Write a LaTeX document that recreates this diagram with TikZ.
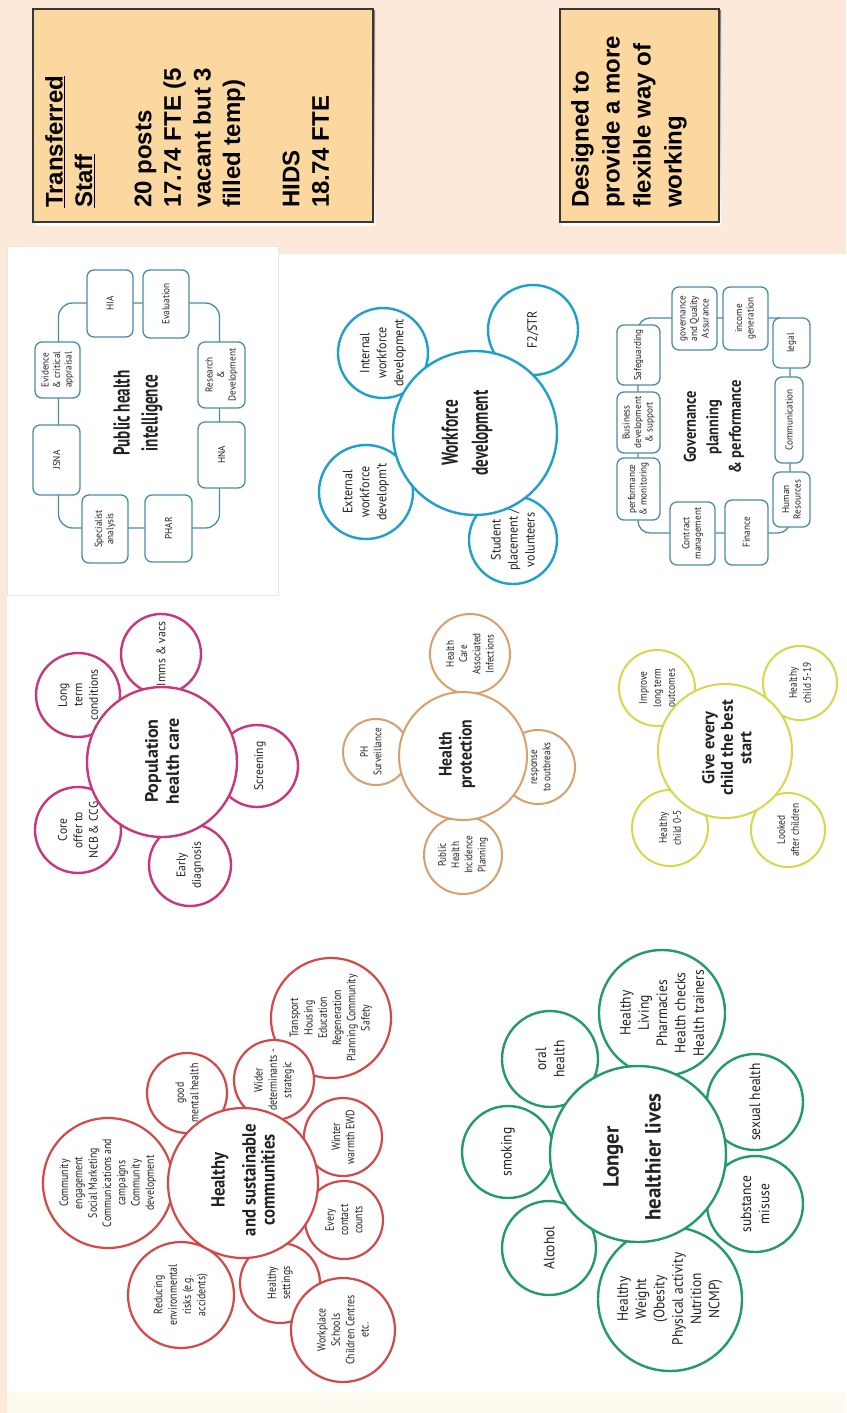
\documentclass[tikz,border=0pt]{standalone}
\usepackage{fontspec}
\setmainfont{PT Sans}
\newfontfamily\headfont{Liberation Sans}

\definecolor{peach}{RGB}{253,233,217}
\definecolor{cream}{RGB}{254,250,240}
\definecolor{tanfill}{RGB}{250,216,160}
\definecolor{boxline}{RGB}{55,55,55}
\definecolor{shade}{RGB}{240,185,165}
\definecolor{panelline}{RGB}{236,230,225}
\definecolor{ink}{RGB}{35,35,35}
\definecolor{wdc}{RGB}{30,160,205}
\definecolor{popc}{RGB}{200,55,125}
\definecolor{hpc}{RGB}{215,160,110}
\definecolor{gecc}{RGB}{215,215,75}
\definecolor{hscc}{RGB}{212,72,72}
\definecolor{lhlc}{RGB}{35,155,105}
\definecolor{ringc}{RGB}{75,140,165}

\begin{document}
\begin{tikzpicture}[x=1pt, y=-1pt,
  bub/.style={circle, draw=#1, line width=2.4pt, fill=white, inner sep=0pt},
  lab/.style={rotate=90, align=center, inner sep=0pt, text=ink},
  wdhub/.style={lab, font=\bfseries\fontsize{23}{30}\selectfont, xscale=0.66},
  wdsat/.style={lab, font=\fontsize{13.5}{17}\selectfont, xscale=0.9},
  phihub/.style={lab, font=\bfseries\fontsize{23}{28}\selectfont, xscale=0.66},
  boxtxt/.style={lab, font=\fontsize{10}{11.5}\selectfont, xscale=0.92},
  govhub/.style={lab, font=\bfseries\fontsize{17}{22.5}\selectfont, xscale=0.85},
  pophub/.style={lab, font=\bfseries\fontsize{18}{21}\selectfont},
  popsat/.style={lab, font=\fontsize{12.5}{15.5}\selectfont, xscale=0.93},
  hphub/.style={lab, font=\bfseries\fontsize{18}{20}\selectfont, xscale=0.87},
  hpsat/.style={lab, font=\fontsize{11}{13.3}\selectfont, xscale=0.83},
  gechub/.style={lab, font=\bfseries\fontsize{17}{18.5}\selectfont, xscale=0.97},
  gecsat/.style={lab, font=\fontsize{11}{14}\selectfont, xscale=0.85},
  hschub/.style={lab, font=\bfseries\fontsize{19}{19}\selectfont, xscale=0.88},
  hscsat/.style={lab, font=\fontsize{12}{14.3}\selectfont, xscale=0.82},
  lhlhub/.style={lab, font=\bfseries\fontsize{22}{26}\selectfont, xscale=0.95},
  lhlsat/.style={lab, font=\fontsize{15}{18.3}\selectfont, xscale=0.9},
  infobox/.style={draw=boxline, line width=1.8pt, fill=tanfill, inner sep=0pt},
  infotext/.style={rotate=90, align=left, inner sep=0pt, anchor=north west, text=black,
    font=\headfont\bfseries\fontsize{24}{29.6}\selectfont},
  ibox/.style={draw=ringc, line width=1.3pt, rounded corners=7pt, fill=white, inner sep=0pt},
  ringbox/.style={draw=ringc, line width=1.3pt, rounded corners=14pt, inner sep=0pt},
]
\useasboundingbox (0,0) rectangle (846,1413);

% page background and panels
\fill[peach] (0,0) rectangle (846,1413);
\fill[cream] (7,1393) rectangle (846,1413);
\fill[white] (7,254) rectangle (846,1393);
\filldraw[fill=white, draw=panelline, line width=1pt] (7,246) rectangle (278,595);

% header boxes
\fill[shade] (35,11) rectangle (375,225);
\node[infobox, minimum width=340pt, minimum height=213pt] (staff) at (203,115.5) {};
\node[infotext] (staff-t) at (45,208)
  {\underline{Transferred}\\\underline{Staff}\\[29.6pt]20 posts\\17.74 FTE (5\\vacant but 3\\filled temp)\\[29.6pt]HIDS\\18.74 FTE};
\fill[shade] (562,11) rectangle (721,225);
\node[infobox, minimum width=159pt, minimum height=213pt] (flex) at (639.5,115.5) {};
\node[infotext, font=\headfont\bfseries\fontsize{24}{31}\selectfont] (flex-t) at (571,208)
  {Designed to\\provide a more\\flexible way of\\working};

% ---------- Public health intelligence ----------
\node[ringbox, minimum width=161pt, minimum height=225pt] (phi-ring) at (139,415.5) {};
\node[ibox, minimum width=46pt, minimum height=67pt] (hia) at (110,303.5) {};
\node[boxtxt] (hia-t) at (hia) {HIA};
\node[ibox, minimum width=46pt, minimum height=68pt] (eval) at (166,304) {};
\node[boxtxt] (eval-t) at (eval) {Evaluation};
\node[ibox, minimum width=45pt, minimum height=56pt] (evid) at (57.5,370) {};
\node[boxtxt] (evid-t) at (evid) {Evidence\\\& critical\\appraisal};
\node[ibox, minimum width=47pt, minimum height=66pt] (rnd) at (221.5,375) {};
\node[boxtxt] (rnd-t) at (rnd) {Research\\\&\\Development};
\node[ibox, minimum width=47pt, minimum height=70pt] (jsna) at (56.5,460) {};
\node[boxtxt] (jsna-t) at (jsna) {JSNA};
\node[ibox, minimum width=47pt, minimum height=66pt] (hna) at (221.5,455) {};
\node[boxtxt] (hna-t) at (hna) {HNA};
\node[ibox, minimum width=46pt, minimum height=68pt] (spec) at (105,529) {};
\node[boxtxt] (spec-t) at (spec) {Specialist\\analysis};
\node[ibox, minimum width=47pt, minimum height=67pt] (phar) at (168.5,528.5) {};
\node[boxtxt] (phar-t) at (phar) {PHAR};
\node[phihub] (phi-t) at (138,413) {Public health\\intelligence};

% ---------- Workforce development ----------
\node[bub=wdc, minimum size=90pt] (iwd) at (383,353) {};
\node[wdsat] (iwd-t) at (iwd) {Internal\\workforce\\development};
\node[bub=wdc, minimum size=90pt] (f2) at (533,330) {};
\node[wdsat] (f2-t) at (f2) {F2/STR};
\node[bub=wdc, minimum size=94pt] (ewd) at (366,492) {};
\node[wdsat] (ewd-t) at (ewd) {External\\workforce\\developm't};
\node[bub=wdc, minimum size=88pt] (stu) at (513,540) {};
\node[wdsat] (stu-t) at (stu) {Student\\placement /\\volunteers};
\node[bub=wdc, minimum size=164pt] (wd) at (475,433) {};
\node[wdhub] (wd-t) at (467,433) {Workforce\\development};

% ---------- Governance planning & performance ----------
\node[ringbox, rounded corners=12pt, minimum width=152pt, minimum height=215pt] (gov-ring) at (714,425.5) {};
\node[ibox, minimum width=43pt, minimum height=62pt] (perf) at (638.5,489) {};
\node[boxtxt] (perf-t) at (perf) {performance\\\& monitoring};
\node[ibox, minimum width=43pt, minimum height=61pt] (bus) at (638.5,422.5) {};
\node[boxtxt] (bus-t) at (bus) {Business\\development\\\& support};
\node[ibox, minimum width=43pt, minimum height=60pt] (safe) at (638.5,355) {};
\node[boxtxt] (safe-t) at (safe) {Safeguarding};
\node[ibox, minimum width=45pt, minimum height=63pt] (gqa) at (694.5,318.5) {};
\node[boxtxt] (gqa-t) at (gqa) {governance\\and Quality\\Assurance};
\node[ibox, minimum width=45pt, minimum height=63pt] (inc) at (745.5,318.5) {};
\node[boxtxt] (inc-t) at (inc) {income\\generation};
\node[ibox, minimum width=45pt, minimum height=63pt] (contract) at (692.5,533.5) {};
\node[boxtxt] (contract-t) at (contract) {Contract\\management};
\node[ibox, minimum width=43pt, minimum height=65pt] (fin) at (746.5,532.5) {};
\node[boxtxt] (fin-t) at (fin) {Finance};
\node[ibox, minimum width=37pt, minimum height=50pt] (legal) at (791.5,343) {};
\node[boxtxt] (legal-t) at (legal) {legal};
\node[ibox, minimum width=28pt, minimum height=86pt] (comm) at (789,420) {};
\node[boxtxt] (comm-t) at (comm) {Communication};
\node[ibox, minimum width=37pt, minimum height=55pt] (hr) at (791.5,499.5) {};
\node[boxtxt] (hr-t) at (hr) {Human\\Resources};
\node[govhub] (gov-t) at (714,427) {Governance\\planning\\\& performance};

% ---------- Population health care ----------
\node[bub=popc, minimum size=84pt] (ltc) at (78,695) {};
\node[popsat] (ltc-t) at (ltc) {Long\\term\\conditions};
\node[bub=popc, minimum size=80pt] (imms) at (161,654) {};
\node[popsat] (imms-t) at (imms) {Imms \& vacs};
\node[bub=popc, minimum size=82pt] (scr) at (257,766) {};
\node[popsat] (scr-t) at (260,766) {Screening};
\node[bub=popc, minimum size=86pt] (core) at (78,830) {};
\node[popsat] (core-t) at (core) {Core\\offer to\\NCB \& CCG};
\node[bub=popc, minimum size=82pt] (early) at (190,865) {};
\node[popsat] (early-t) at (early) {Early\\diagnosis};
\node[bub=popc, minimum size=150pt] (pop) at (162,762) {};
\node[pophub] (pop-t) at (162,761) {Population\\health care};

% ---------- Health protection ----------
\node[bub=hpc, line width=2pt, minimum size=80pt] (hcai) at (470,654) {};
\node[hpsat] (hcai-t) at (hcai) {Health\\Care\\Associated\\Infections};
\node[bub=hpc, line width=2pt, minimum size=66pt] (phs) at (376,752) {};
\node[hpsat] (phs-t) at (371,752) {PH\\Surveillance};
\node[bub=hpc, line width=2pt, minimum size=74pt] (resp) at (538,767) {};
\node[hpsat] (resp-t) at (541,767) {response\\to outbreaks};
\node[bub=hpc, line width=2pt, minimum size=78pt] (phip) at (463,855) {};
\node[hpsat] (phip-t) at (phip) {Public\\Health\\Incidence\\Planning};
\node[bub=hpc, line width=2pt, minimum size=128pt] (hp) at (463,756) {};
\node[hphub] (hp-t) at (457,754) {Health\\protection};

% ---------- Give every child the best start ----------
\node[bub=gecc, line width=2pt, minimum size=76pt] (imp) at (657,688) {};
\node[gecsat] (imp-t) at (imp) {Improve\\long term\\outcomes};
\node[bub=gecc, line width=2pt, minimum size=74pt] (h519) at (800,683) {};
\node[gecsat] (h519-t) at (h519) {Healthy\\child 5-19};
\node[bub=gecc, line width=2pt, minimum size=76pt] (h05) at (670,828) {};
\node[gecsat] (h05-t) at (h05) {Healthy\\child 0-5};
\node[bub=gecc, line width=2pt, minimum size=74pt] (lac) at (788,830) {};
\node[gecsat] (lac-t) at (lac) {Looked\\after children};
\node[bub=gecc, line width=2pt, minimum size=134pt] (gec) at (725,751) {};
\node[gechub] (gec-t) at (727,748) {Give every\\child the best\\start};

% ---------- Healthy and sustainable communities ----------
\node[bub=hscc, line width=2.2pt, minimum size=120pt] (thp) at (331,1018) {};
\node[hscsat] (thp-t) at (thp) {Transport\\Housing\\Education\\Regeneration\\Planning Community\\Safety};
\node[bub=hscc, line width=2.2pt, minimum size=80pt] (wds) at (274,1080) {};
\node[hscsat] (wds-t) at (wds) {Wider\\determinants -\\strategic};
\node[bub=hscc, line width=2.2pt, minimum size=130pt] (ce) at (108,1183) {};
\node[hscsat] (ce-t) at (ce) {Community\\engagement\\Social Marketing\\Communications and\\campaigns\\Community\\development};
\node[bub=hscc, line width=2.2pt, minimum size=80pt] (gmh) at (187,1093) {};
\node[hscsat] (gmh-t) at (gmh) {good\\mental health};
\node[bub=hscc, line width=2.2pt, minimum size=78pt] (ww) at (343,1137) {};
\node[hscsat] (ww-t) at (ww) {Winter\\warmth EWD};
\node[bub=hscc, line width=2.2pt, minimum size=80pt] (hs) at (280,1283) {};
\node[hscsat] (hs-t) at (hs) {Healthy\\settings};
\node[bub=hscc, line width=2.2pt, minimum size=78pt] (ecc) at (344,1220) {};
\node[hscsat] (ecc-t) at (ecc) {Every\\contact\\counts};
\node[bub=hscc, line width=2.2pt, minimum size=106pt] (red) at (181,1295) {};
\node[hscsat] (red-t) at (red) {Reducing\\environmental\\risks (e.g.\\accidents)};
\node[bub=hscc, line width=2.2pt, minimum size=104pt] (wsc) at (343,1330) {};
\node[hscsat] (wsc-t) at (wsc) {Workplace\\Schools\\Children Centres\\etc.};
\node[bub=hscc, line width=2.2pt, minimum size=150pt] (hsc) at (243,1183) {};
\node[hschub] (hsc-t) at (243,1180) {Healthy\\[12pt]and sustainable\\communities};

% ---------- Longer healthier lives ----------
\node[bub=lhlc, minimum size=126pt] (hlp) at (662,1013) {};
\node[lhlsat] (hlp-t) at (hlp) {Healthy\\Living\\Pharmacies\\Health checks\\Health trainers};
\node[bub=lhlc, minimum size=96pt] (oral) at (550,1059) {};
\node[lhlsat] (oral-t) at (oral) {oral\\health};
\node[bub=lhlc, minimum size=92pt] (smk) at (508,1152) {};
\node[lhlsat] (smk-t) at (smk) {smoking};
\node[bub=lhlc, minimum size=94pt] (alc) at (549,1248) {};
\node[lhlsat] (alc-t) at (alc) {Alcohol};
\node[bub=lhlc, minimum size=96pt] (sex) at (755,1102) {};
\node[lhlsat] (sex-t) at (sex) {sexual health};
\node[bub=lhlc, minimum size=96pt] (sub) at (755,1204) {};
\node[lhlsat] (sub-t) at (sub) {substance\\misuse};
\node[bub=lhlc, minimum size=144pt] (hw) at (670,1299) {};
\node[lhlsat] (hw-t) at (hw) {Healthy\\Weight\\(Obesity\\Physical activity\\Nutrition\\NCMP)};
\node[bub=lhlc, minimum size=176pt] (lhl) at (638,1154) {};
\node[lhlhub] (lhl-t) at (632,1157) {Longer\\[16pt]healthier lives};
\end{tikzpicture}
\end{document}
